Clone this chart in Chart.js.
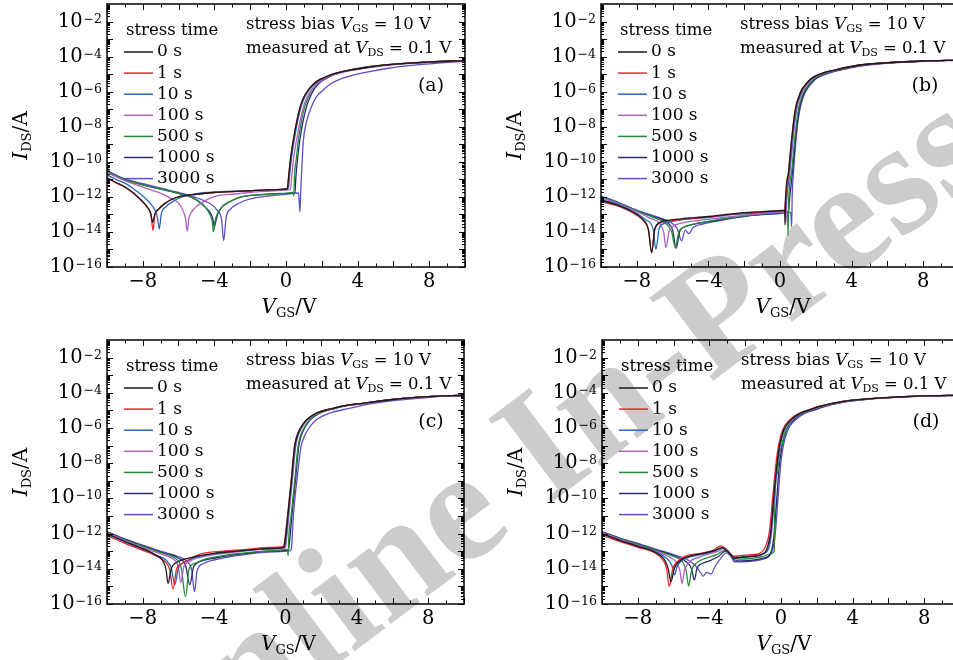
<!DOCTYPE html>
<html>
<head>
<meta charset="utf-8">
<script src="https://cdn.jsdelivr.net/npm/chart.js@4.4.1/dist/chart.umd.min.js"></script>
<style>
  body { margin: 0; background: #fff; width: 953px; height: 660px; overflow: hidden; position: relative; }
  canvas { position: absolute; z-index: 1; }
  #wm {
    position: absolute; left: 0; top: 0; z-index: 0; white-space: nowrap;
    font: bold 160px "Liberation Serif", serif; line-height: normal; color: #cccccc;
    transform-origin: 0 0;
    transform: translate(144px, 806px) rotate(-37deg) translate(0, -143px);
  }
</style>
</head>
<body>
<div id="wm">Online In-Press</div>
<canvas id="ca" width="476" height="330" style="left:0;top:0"></canvas>
<canvas id="cb" width="494" height="330" style="left:476px;top:0"></canvas>
<canvas id="cc" width="476" height="330" style="left:0;top:330px"></canvas>
<canvas id="cd" width="494" height="330" style="left:476px;top:330px"></canvas>
<script>
// stress times and line colours
const labels = ['0 s', '1 s', '10 s', '100 s', '500 s', '1000 s', '3000 s'];
const colors = ['#1a1a1a', '#e8262b', '#2767c4', '#b160c0', '#24893b', '#262a6a', '#5a50c8'];
const xTicks = [-8, -4, 0, 4, 8];
const yTicks = [-16, -14, -12, -10, -8, -6, -4, -2];   // exponents of 10

// values: V_GS (V) and log10(I_DS / A)
// panel (a)
const a0v = [-10,-9.5,-9,-8.5,-8,-7.75,-7.55,-7.45,-7.32,-7.1,-6.8,-6.4,-6,-5,-4,-3,-2,-1,0,0.08,0.15,0.27,0.42,0.6,0.8,1.0,1.25,1.55,1.9,2.35,2.85,3.5,4.3,5.8,8,10];
const a0lg = [-10.9,-11.18,-11.42,-11.8,-12.28,-12.58,-12.95,-13.45,-12.95,-12.68,-12.4,-12.15,-12.0,-11.85,-11.75,-11.7,-11.65,-11.6,-11.55,-11.5,-10.8,-9.7,-8.7,-7.7,-6.84,-6.3,-5.9,-5.55,-5.3,-5.1,-4.93,-4.78,-4.65,-4.46,-4.3,-4.23];
const a1v = [-10,-9.5,-9,-8.5,-8,-7.75,-7.55,-7.43,-7.32,-7.1,-6.8,-6.4,-6,-5,-4,-3,-2,-1,0,0.08,0.15,0.27,0.42,0.6,0.8,1.0,1.25,1.55,1.9,2.35,2.85,3.5,4.3,5.8,8,10];
const a1lg = [-10.93,-11.2,-11.45,-11.82,-12.3,-12.6,-13.0,-13.9,-13.0,-12.7,-12.4,-12.15,-12.0,-11.85,-11.75,-11.7,-11.65,-11.6,-11.55,-11.5,-10.8,-9.7,-8.7,-7.7,-6.84,-6.3,-5.9,-5.55,-5.3,-5.1,-4.93,-4.78,-4.65,-4.46,-4.3,-4.23];
const a2v = [-10,-9.5,-9,-8.5,-8,-7.6,-7.3,-7.18,-7.08,-6.97,-6.7,-6.3,-5.8,-5,-4,-3,-2,-1,0,0.13,0.2,0.32,0.47,0.65,0.85,1.05,1.3,1.6,1.95,2.4,2.9,3.55,4.35,5.85,8,10];
const a2lg = [-10.75,-11.0,-11.22,-11.55,-11.95,-12.35,-12.8,-13.2,-13.83,-13.0,-12.55,-12.25,-12.0,-11.82,-11.72,-11.68,-11.64,-11.6,-11.57,-11.52,-10.8,-9.7,-8.7,-7.7,-6.84,-6.3,-5.9,-5.55,-5.3,-5.1,-4.93,-4.78,-4.65,-4.46,-4.3,-4.23];
const a3v = [-10,-9.5,-9,-8,-7,-6.4,-6,-5.75,-5.62,-5.52,-5.42,-5.3,-5,-4.5,-4,-3,-2,-1,0,0.25,0.32,0.44,0.6,0.78,0.98,1.18,1.43,1.73,2.08,2.52,3.0,3.65,4.45,5.9,8,10];
const a3lg = [-10.6,-10.85,-11.08,-11.45,-11.8,-12.1,-12.36,-12.8,-13.2,-13.95,-13.2,-12.9,-12.55,-12.2,-11.98,-11.85,-11.75,-11.68,-11.62,-11.58,-10.8,-9.7,-8.7,-7.7,-6.84,-6.3,-5.9,-5.55,-5.3,-5.1,-4.94,-4.79,-4.66,-4.47,-4.31,-4.24];
const a4v = [-10,-9.85,-9.5,-9,-8,-7,-6,-5,-4.5,-4.25,-4.12,-4.05,-3.97,-3.85,-3.6,-3.2,-2.5,-1.5,0,0.4,0.44,0.47,0.58,0.7,0.86,1.05,1.25,1.45,1.72,2.05,2.42,2.9,3.4,4.0,4.8,6.2,8.2,10];
const a4lg = [-10.25,-10.6,-10.8,-11.03,-11.31,-11.56,-11.8,-12.17,-12.6,-13.0,-13.4,-14.0,-13.4,-13.0,-12.6,-12.3,-12.0,-11.88,-11.8,-11.75,-11.95,-10.9,-9.8,-8.7,-7.7,-6.84,-6.3,-5.9,-5.55,-5.3,-5.1,-4.93,-4.8,-4.67,-4.55,-4.42,-4.31,-4.24];
const a5v = [-10,-9.5,-9,-8,-7,-6,-5,-4.5,-4.2,-4.08,-4.0,-3.9,-3.8,-3.55,-3.1,-2.5,-1.5,0,0.5,0.55,0.65,0.78,0.95,1.15,1.35,1.55,1.82,2.15,2.52,3.0,3.5,4.1,4.9,6.3,8.3,10];
const a5lg = [-10.55,-10.8,-11.03,-11.31,-11.56,-11.8,-12.17,-12.6,-12.95,-13.3,-13.7,-13.3,-12.95,-12.55,-12.25,-12.0,-11.88,-11.8,-11.75,-10.9,-9.8,-8.7,-7.7,-6.84,-6.3,-5.9,-5.55,-5.3,-5.1,-4.93,-4.8,-4.67,-4.55,-4.42,-4.31,-4.24];
const a6v = [-10,-9.5,-9,-8,-7,-6,-5,-4.3,-3.85,-3.6,-3.48,-3.35,-3.1,-2.6,-2,-1,0,0.7,0.78,0.83,0.9,0.97,1.15,1.43,1.7,2.08,2.5,3.0,3.6,4.3,5.8,7,8.5,10];
const a6lg = [-10.5,-10.75,-10.98,-11.25,-11.5,-11.75,-12.05,-12.35,-12.75,-13.3,-14.5,-13.2,-12.7,-12.35,-12.12,-11.95,-11.85,-11.78,-12.85,-11.5,-10.0,-8.8,-7.7,-6.84,-6.3,-5.9,-5.55,-5.3,-5.1,-4.93,-4.65,-4.5,-4.37,-4.27];

// panel (b)
const b0v = [-10,-9,-8,-7.6,-7.35,-7.17,-7.0,-6.7,-6.2,-5.5,-4,-3,-2,-1,0,0.26,0.28,0.3,0.47,0.56,0.65,0.76,0.89,1.05,1.21,1.42,1.68,2.0,2.42,3.0,3.54,4.47,6,8,10];
const b0lg = [-12.2,-12.5,-13.0,-13.35,-13.85,-15.2,-13.85,-13.45,-13.33,-13.25,-13.12,-13.0,-12.9,-12.84,-12.78,-12.76,-13.6,-12.3,-10.65,-9.7,-8.74,-7.7,-6.84,-6.3,-5.9,-5.6,-5.3,-5.1,-4.93,-4.78,-4.65,-4.48,-4.35,-4.25,-4.2];
const b1v = [-10,-9,-8,-7.6,-7.35,-7.17,-7.0,-6.7,-6.2,-5.5,-4,-3,-2,-1,0,0.25,0.3,0.47,0.56,0.65,0.76,0.89,1.05,1.21,1.42,1.68,2.0,2.42,3.0,3.54,4.47,6,8,10];
const b1lg = [-12.27,-12.55,-13.05,-13.4,-13.9,-15.15,-13.9,-13.5,-13.38,-13.3,-13.15,-13.03,-12.93,-12.87,-12.8,-12.78,-12.3,-10.65,-9.7,-8.74,-7.7,-6.84,-6.3,-5.9,-5.6,-5.3,-5.1,-4.93,-4.78,-4.65,-4.48,-4.35,-4.25,-4.2];
const b2v = [-10,-9,-8,-7.5,-7.1,-6.93,-6.75,-6.4,-5.8,-5,-4,-3,-2,-1,0,0.29,0.34,0.51,0.6,0.69,0.8,0.93,1.09,1.25,1.46,1.72,2.04,2.46,3.04,3.58,4.5,6,8,10];
const b2lg = [-12.15,-12.45,-12.95,-13.3,-13.8,-15.0,-13.8,-13.5,-13.35,-13.25,-13.18,-13.05,-12.97,-12.9,-12.83,-12.8,-12.3,-10.65,-9.7,-8.74,-7.7,-6.84,-6.3,-5.9,-5.6,-5.3,-5.1,-4.93,-4.78,-4.65,-4.48,-4.35,-4.25,-4.2];
const b3v = [-10,-9,-8,-7.3,-6.7,-6.5,-6.37,-6.2,-6.0,-5.5,-5,-4,-3,-2,-1,0,0.3,0.33,0.37,0.55,0.64,0.73,0.84,0.97,1.13,1.3,1.51,1.77,2.1,2.52,3.1,3.64,4.55,6.05,8,10];
const b3lg = [-12.05,-12.4,-12.85,-13.2,-13.55,-14.0,-14.9,-14.0,-13.7,-13.5,-13.4,-13.28,-13.15,-13.05,-12.95,-12.88,-12.85,-13.5,-12.3,-10.65,-9.7,-8.74,-7.7,-6.84,-6.3,-5.9,-5.6,-5.3,-5.1,-4.93,-4.78,-4.65,-4.48,-4.35,-4.25,-4.2];
const b4v = [-10,-9,-8,-7,-6.4,-6.05,-5.85,-5.65,-5.4,-5,-4,-3,-2,-1,0,0.42,0.45,0.48,0.64,0.73,0.82,0.93,1.06,1.22,1.39,1.6,1.86,2.18,2.6,3.16,3.7,4.6,6.1,8,10];
const b4lg = [-12.0,-12.36,-12.8,-13.2,-13.5,-14.0,-14.9,-14.0,-13.75,-13.6,-13.4,-13.22,-13.08,-12.98,-12.9,-12.85,-14.2,-12.3,-10.65,-9.7,-8.74,-7.7,-6.84,-6.3,-5.9,-5.6,-5.3,-5.1,-4.93,-4.78,-4.65,-4.48,-4.35,-4.25,-4.2];
const b5v = [-10,-9,-8,-7,-6.3,-6.0,-5.8,-5.6,-5.3,-4.8,-4,-3,-2,-1,0,0.48,0.52,0.69,0.78,0.87,0.98,1.11,1.27,1.44,1.65,1.92,2.24,2.66,3.22,3.76,4.65,6.1,8,10];
const b5lg = [-11.98,-12.36,-12.8,-13.15,-13.45,-13.9,-14.93,-13.95,-13.7,-13.55,-13.42,-13.25,-13.1,-13.0,-12.92,-12.85,-12.3,-10.65,-9.7,-8.74,-7.7,-6.84,-6.3,-5.9,-5.6,-5.3,-5.1,-4.93,-4.78,-4.65,-4.48,-4.35,-4.25,-4.2];
const b6v = [-10,-9,-8,-7,-6.2,-5.75,-5.49,-5.3,-5.1,-4.85,-4.3,-3.5,-2.5,-1.5,0,0.6,0.65,0.68,0.75,0.89,1.0,1.15,1.3,1.49,1.7,1.96,2.3,2.79,3.3,3.9,4.8,6.2,8,10];
const b6lg = [-11.95,-12.33,-12.75,-13.1,-13.4,-13.8,-14.5,-13.9,-14.1,-13.75,-13.55,-13.38,-13.2,-13.05,-12.95,-12.88,-13.7,-12.0,-10.65,-8.74,-7.7,-6.84,-6.3,-5.9,-5.6,-5.3,-5.1,-4.93,-4.78,-4.65,-4.5,-4.37,-4.27,-4.21];

// panel (c)
const c0v = [-10,-9,-8,-7.3,-6.9,-6.7,-6.58,-6.4,-6.2,-5.8,-5,-4,-3,-2,-1,-0.1,-0.05,0.14,0.33,0.51,0.63,0.79,1.16,1.72,2.66,3.4,4.3,6,8,10];
const c0lg = [-12.0,-12.45,-12.85,-13.2,-13.5,-14.0,-14.82,-14.0,-13.7,-13.5,-13.3,-13.12,-13.02,-12.93,-12.85,-12.78,-12.6,-10.85,-8.95,-7.06,-6.5,-6.1,-5.55,-5.16,-4.88,-4.72,-4.6,-4.38,-4.22,-4.14];
const c1v = [-10,-9,-8,-7.2,-6.8,-6.5,-6.3,-6.1,-5.9,-5.6,-5,-4.5,-3.5,-2,-1,-0.1,-0.06,0.13,0.32,0.5,0.62,0.78,1.15,1.71,2.65,3.4,4.3,6,8,10];
const c1lg = [-12.12,-12.55,-12.95,-13.3,-13.55,-14.0,-15.15,-14.0,-13.75,-13.6,-13.25,-13.1,-13.0,-12.88,-12.78,-12.72,-12.5,-10.85,-8.95,-7.06,-6.5,-6.1,-5.55,-5.16,-4.88,-4.72,-4.6,-4.38,-4.22,-4.14];
const c2v = [-10,-9,-8,-7.2,-6.7,-6.4,-6.2,-6.0,-5.8,-5.5,-5,-4,-3,-2,-1,-0.05,0.0,0.17,0.36,0.54,0.66,0.82,1.19,1.75,2.68,3.42,4.32,6,8,10];
const c2lg = [-12.05,-12.48,-12.88,-13.25,-13.5,-13.95,-14.9,-13.95,-13.7,-13.55,-13.35,-13.15,-13.03,-12.94,-12.86,-12.8,-12.55,-10.85,-8.95,-7.06,-6.5,-6.1,-5.55,-5.16,-4.88,-4.72,-4.6,-4.38,-4.22,-4.14];
const c3v = [-10,-9,-8,-7,-6.3,-6.0,-5.87,-5.7,-5.4,-5,-4,-3,-2,-1,0,0.03,0.2,0.39,0.57,0.69,0.85,1.22,1.78,2.7,3.45,4.35,6,8,10];
const c3lg = [-11.95,-12.4,-12.78,-13.15,-13.45,-13.9,-14.78,-13.9,-13.6,-13.4,-13.2,-13.08,-12.97,-12.88,-12.8,-12.6,-10.85,-8.95,-7.06,-6.5,-6.1,-5.55,-5.16,-4.88,-4.72,-4.6,-4.38,-4.22,-4.14];
const c4v = [-10,-9,-8,-7,-6.2,-5.85,-5.6,-5.4,-5.1,-4.5,-3.5,-2.5,-1.5,-0.5,0.1,0.15,0.18,0.33,0.52,0.7,0.82,0.98,1.33,1.88,2.78,3.5,4.4,6,8,10];
const c4lg = [-11.92,-12.36,-12.72,-13.08,-13.4,-13.9,-15.58,-14.0,-13.7,-13.45,-13.25,-13.12,-13.02,-12.95,-12.9,-13.25,-12.3,-10.85,-8.95,-7.06,-6.5,-6.1,-5.55,-5.16,-4.88,-4.72,-4.6,-4.38,-4.22,-4.14];
const c5v = [-10,-9,-8,-7,-6,-5.6,-5.36,-5.15,-4.8,-4,-3,-2,-1,0.15,0.2,0.37,0.56,0.74,0.86,1.02,1.37,1.92,2.8,3.52,4.42,6,8,10];
const c5lg = [-11.9,-12.33,-12.7,-13.05,-13.4,-13.8,-14.9,-13.9,-13.6,-13.4,-13.22,-13.1,-13.0,-12.95,-12.7,-10.85,-8.95,-7.06,-6.5,-6.1,-5.55,-5.16,-4.88,-4.72,-4.6,-4.38,-4.22,-4.14];
const c6v = [-10,-9,-8,-7,-6,-5.5,-5.25,-5.1,-4.95,-4.6,-4,-3,-2,-1,0.25,0.32,0.45,0.64,0.87,1.05,1.25,1.71,2.46,3.5,4.8,6.5,8.3,10];
const c6lg = [-11.88,-12.3,-12.65,-13.0,-13.3,-13.6,-14.1,-15.3,-14.1,-13.7,-13.5,-13.3,-13.15,-13.05,-12.98,-12.9,-10.85,-8.95,-7.06,-6.5,-6.1,-5.55,-5.16,-4.9,-4.62,-4.4,-4.24,-4.15];

// panel (d)
const d0v = [-10,-9,-8,-7,-6.5,-6.3,-6.15,-5.95,-5.7,-5.3,-4.5,-3.8,-3.3,-3.05,-2.8,-2.6,-2.2,-1.6,-1.1,-0.8,-0.58,-0.4,-0.22,-0.09,0.15,0.53,1.08,1.56,2.1,3.4,5,6.5,8,10];
const d0lg = [-12.0,-12.38,-12.72,-13.08,-13.5,-14.0,-14.74,-13.95,-13.6,-13.35,-13.15,-13.0,-12.8,-12.95,-13.2,-13.4,-13.35,-13.3,-13.2,-12.9,-11.9,-9.9,-8.0,-7.06,-6.11,-5.55,-5.16,-4.98,-4.79,-4.5,-4.33,-4.24,-4.18,-4.14];
const d1v = [-10,-9,-8,-7,-6.6,-6.4,-6.24,-6.05,-5.8,-5.4,-4.5,-3.8,-3.35,-3.1,-2.9,-2.65,-2.3,-1.7,-1.2,-0.9,-0.65,-0.46,-0.28,-0.15,0.09,0.47,1.02,1.5,2.05,3.35,5,6.5,8,10];
const d1lg = [-12.1,-12.45,-12.78,-13.12,-13.5,-13.95,-15.0,-14.0,-13.6,-13.31,-13.12,-12.95,-12.7,-12.85,-13.05,-13.3,-13.25,-13.2,-13.12,-12.8,-11.9,-9.9,-8.0,-7.06,-6.11,-5.55,-5.16,-4.98,-4.79,-4.5,-4.33,-4.24,-4.18,-4.14];
const d2v = [-10,-9,-8,-7,-6.4,-6.1,-5.95,-5.8,-5.5,-5,-4.3,-3.7,-3.25,-3.0,-2.75,-2.5,-2,-1.4,-1,-0.7,-0.55,-0.38,-0.2,-0.07,0.17,0.55,1.1,1.6,2.12,3.4,5,6.5,8,10];
const d2lg = [-12.02,-12.4,-12.72,-13.05,-13.4,-13.8,-14.35,-13.85,-13.5,-13.3,-13.15,-13.0,-12.82,-12.95,-13.25,-13.35,-13.3,-13.25,-13.15,-12.85,-11.9,-9.9,-8.0,-7.06,-6.11,-5.55,-5.16,-4.98,-4.79,-4.5,-4.33,-4.24,-4.18,-4.14];
const d3v = [-10,-9,-8,-7,-6.2,-5.8,-5.65,-5.53,-5.4,-5.1,-4.6,-4,-3.5,-3.2,-2.95,-2.7,-2.4,-1.8,-1.2,-0.8,-0.55,-0.38,-0.22,-0.05,0.2,0.6,1.15,1.65,2.2,3.45,5,6.5,8,10];
const d3lg = [-11.95,-12.33,-12.68,-13.0,-13.35,-13.7,-14.1,-14.83,-14.1,-13.6,-13.35,-13.15,-13.0,-12.85,-13.0,-13.3,-13.35,-13.3,-13.22,-13.0,-12.2,-10.2,-8.2,-7.06,-6.11,-5.55,-5.16,-4.98,-4.79,-4.5,-4.34,-4.24,-4.18,-4.14];
const d4v = [-10,-9,-8,-7,-6,-5.5,-5.3,-5.16,-5.0,-4.7,-4.2,-3.6,-3.15,-2.9,-2.65,-2.3,-1.6,-1.0,-0.6,-0.37,-0.36,-0.22,-0.08,0.05,0.25,0.6,1.15,1.7,2.2,3.5,5,6.5,8,10];
const d4lg = [-11.92,-12.3,-12.62,-12.95,-13.3,-13.6,-14.1,-14.98,-14.1,-13.65,-13.4,-13.2,-12.95,-13.1,-13.4,-13.45,-13.4,-13.3,-13.15,-13.0,-10.6,-8.6,-7.5,-6.95,-6.2,-5.6,-5.18,-4.99,-4.8,-4.51,-4.34,-4.25,-4.18,-4.14];
const d5v = [-10,-9,-8,-7,-6,-5.3,-5.0,-4.84,-4.7,-4.4,-4.0,-3.5,-3.1,-2.85,-2.6,-2.2,-1.5,-1.0,-0.6,-0.4,-0.25,-0.1,0.05,0.3,0.7,1.25,1.75,2.3,3.5,5,6.5,8,10];
const d5lg = [-11.9,-12.28,-12.6,-12.92,-13.25,-13.6,-14.0,-14.64,-14.0,-13.7,-13.55,-13.3,-13.0,-13.15,-13.5,-13.55,-13.5,-13.4,-13.15,-12.2,-10.2,-8.2,-7.06,-6.11,-5.55,-5.16,-4.99,-4.8,-4.51,-4.34,-4.25,-4.19,-4.15];
const d6v = [-10,-9,-8,-7,-6,-5.2,-4.8,-4.5,-4.35,-4.15,-3.9,-3.7,-3.4,-3.05,-2.8,-2.6,-2.2,-1.5,-1.0,-0.6,-0.35,-0.18,-0.03,0.12,0.38,0.8,1.35,1.85,2.4,3.6,5,6.5,8,10];
const d6lg = [-11.88,-12.25,-12.55,-12.88,-13.2,-13.5,-13.8,-14.2,-14.42,-14.2,-14.3,-13.9,-13.45,-13.1,-13.3,-13.6,-13.6,-13.55,-13.45,-13.2,-12.3,-10.2,-8.2,-7.06,-6.11,-5.55,-5.16,-4.99,-4.8,-4.52,-4.35,-4.25,-4.19,-4.15];

const SERIF = '"DejaVu Serif", serif';
const rm = n => n + 'px ' + SERIF;
const it = n => 'italic ' + n + 'px ' + SERIF;

// draw a run of text pieces [text, font, dy]
function rich(ctx, parts, x, y, align) {
  let w = 0;
  parts.forEach(p => { ctx.font = p[1]; w += ctx.measureText(p[0]).width; });
  let cx = align === 'center' ? x - w / 2 : x;
  parts.forEach(p => {
    ctx.font = p[1];
    ctx.fillText(p[0], cx, y + (p[2] || 0));
    cx += ctx.measureText(p[0]).width;
  });
}

const decor = {
  id: 'decor',
  afterDatasetsDraw(chart, args, opts) {
    const { ctx, chartArea: a, scales: { x, y } } = chart;
    ctx.save();
    ctx.strokeStyle = '#000';
    ctx.fillStyle = '#000';

    // inward ticks on all four sides
    ctx.lineWidth = 1;
    ctx.beginPath();
    for (let v = -10; v <= 10; v++) {
      const px = Math.round(x.getPixelForValue(v)) + 0.5;
      const len = v % 2 === 0 ? 6 : 3.5;
      ctx.moveTo(px, a.bottom); ctx.lineTo(px, a.bottom - len);
      ctx.moveTo(px, a.top); ctx.lineTo(px, a.top + len);
    }
    for (let d = -16; d <= -2; d++) {
      for (let k = 1; k <= 9; k++) {
        const py = Math.round(y.getPixelForValue(d + Math.log10(k))) + 0.5;
        const len = k === 1 ? 6 : 3;
        ctx.moveTo(a.left, py); ctx.lineTo(a.left + len, py);
        ctx.moveTo(a.right, py); ctx.lineTo(a.right - len, py);
      }
    }
    ctx.stroke();
    ctx.lineWidth = 1.5;
    ctx.strokeRect(a.left, a.top, a.right - a.left, a.bottom - a.top);

    // tick labels
    ctx.textBaseline = 'middle';
    ctx.textAlign = 'center';
    ctx.font = rm(19.5);
    xTicks.forEach(v => {
      ctx.fillText(v < 0 ? '\u2212' + (-v) : String(v), x.getPixelForValue(v), a.bottom + 15);
    });
    ctx.textAlign = 'left';
    yTicks.forEach(n => {
      const py = y.getPixelForValue(n);
      const ex = '\u2212' + (-n);
      ctx.font = rm(12.5);
      const ew = ctx.measureText(ex).width;
      ctx.font = rm(19.5);
      const bw = ctx.measureText('10').width;
      const ex0 = a.left - 5 - ew;
      ctx.textBaseline = 'middle';
      ctx.fillText('10', ex0 - bw - 1, py);
      ctx.textBaseline = 'alphabetic';
      ctx.font = rm(12.5);
      ctx.fillText(ex, ex0, py + 1);
    });

    // axis titles
    ctx.textBaseline = 'alphabetic';
    rich(ctx, [['V', it(20)], ['GS', rm(13), 4], ['/V', rm(20)]], (a.left + a.right) / 2 + 3, a.bottom + 46, 'center');
    ctx.save();
    ctx.translate(a.left - 80, (a.top + a.bottom) / 2);
    ctx.rotate(-Math.PI / 2);
    rich(ctx, [['I', it(20)], ['DS', rm(13), 4], ['/A', rm(20)]], 0, 0, 'center');
    ctx.restore();

    // legend
    ctx.textBaseline = 'middle';
    ctx.font = rm(16.5);
    ctx.fillText('stress time', a.left + 19, a.top + 27);
    chart.data.datasets.forEach((ds, k) => {
      const ly = a.top + 48 + k * 21.1;
      ctx.strokeStyle = ds.borderColor;
      ctx.lineWidth = 1.5;
      ctx.beginPath();
      ctx.moveTo(a.left + 17, ly); ctx.lineTo(a.left + 46, ly);
      ctx.stroke();
      ctx.font = rm(17);
      ctx.fillText(ds.label, a.left + 50, ly);
    });

    // annotations
    ctx.textBaseline = 'alphabetic';
    rich(ctx, [['stress bias ', rm(16.5)], ['V', it(16.5)], ['GS', rm(11), 3], [' = 10 V', rm(16.5)]], a.left + 139, a.top + 25);
    rich(ctx, [['measured at ', rm(16.5)], ['V', it(16.5)], ['DS', rm(11), 3], [' = 0.1 V', rm(16.5)]], a.left + 139, a.top + 49);
    ctx.textBaseline = 'middle';
    ctx.textAlign = 'center';
    ctx.font = rm(19);
    ctx.fillText(opts.tag, a.left + 324, a.top + 82);
    ctx.restore();
  }
};

function makePanel(id, tag, series, padTop, padRight, yW, xH) {
  new Chart(document.getElementById(id), {
    type: 'line',
    data: {
      datasets: series.map((s, k) => ({
        label: labels[k],
        data: s[0].map((v, j) => ({ x: v, y: s[1][j] })),
        borderColor: colors[k],
        borderWidth: 1.3,
        pointRadius: 0,
        cubicInterpolationMode: 'monotone',
        fill: false
      }))
    },
    options: {
      responsive: false,
      animation: false,
      devicePixelRatio: 1,
      layout: { padding: { top: padTop, right: padRight, left: 0, bottom: 0 } },
      plugins: { legend: { display: false }, tooltip: { enabled: false }, decor: { tag: tag } },
      scales: {
        x: {
          type: 'linear', min: -10, max: 10,
          grid: { display: false }, border: { display: false }, ticks: { display: false },
          afterFit(s) { s.height = xH; }
        },
        y: {
          type: 'linear', min: -16, max: -1,
          grid: { display: false }, border: { display: false }, ticks: { display: false },
          afterFit(s) { s.width = yW; }
        }
      }
    },
    plugins: [decor]
  });
}

makePanel('ca', '(a)', [[a0v, a0lg], [a1v, a1lg], [a2v, a2lg], [a3v, a3lg], [a4v, a4lg], [a5v, a5lg], [a6v, a6lg]], 4, 11, 107, 63);
makePanel('cb', '(b)', [[b0v, b0lg], [b1v, b1lg], [b2v, b2lg], [b3v, b3lg], [b4v, b4lg], [b5v, b5lg], [b6v, b6lg]], 4, 11, 125, 63);
makePanel('cc', '(c)', [[c0v, c0lg], [c1v, c1lg], [c2v, c2lg], [c3v, c3lg], [c4v, c4lg], [c5v, c5lg], [c6v, c6lg]], 10, 12, 107, 56);
makePanel('cd', '(d)', [[d0v, d0lg], [d1v, d1lg], [d2v, d2lg], [d3v, d3lg], [d4v, d4lg], [d5v, d5lg], [d6v, d6lg]], 10, 10, 126, 56);
</script>
</body>
</html>
